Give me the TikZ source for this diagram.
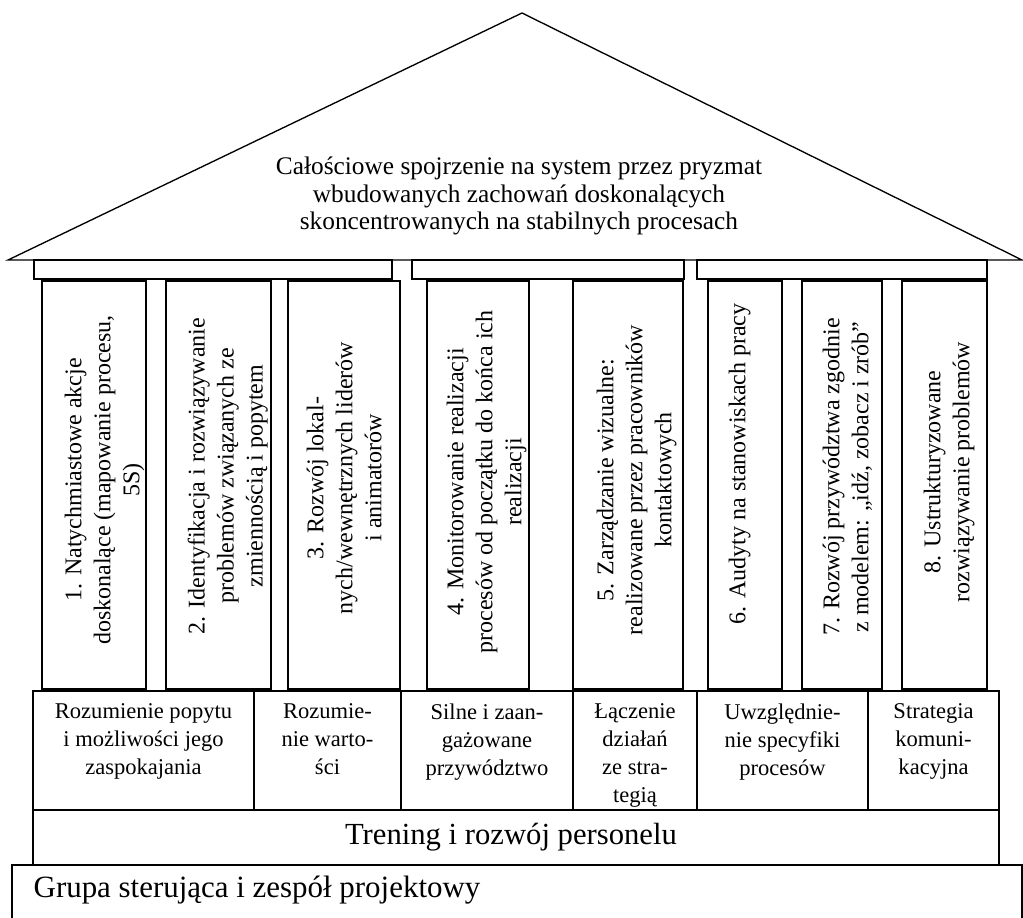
\documentclass[tikz,border=0pt]{standalone}
\usepackage{fontspec}
\setmainfont{Liberation Serif}
\begin{document}
\begin{tikzpicture}[x=0.75pt,y=-0.75pt,line width=1pt,line join=miter,
  outline/.style={draw=black,fill=white},
  rooftext/.style={align=center,inner sep=0pt,font=\fontsize{19}{20.6}\selectfont},
  coltext/.style={rotate=90,anchor=north,align=center,inner sep=0pt,font=\fontsize{18}{21.75}\selectfont},
  celltext/.style={anchor=north,align=center,inner sep=0pt,font=\fontsize{16.9}{21}\selectfont},
  bandtext/.style={inner sep=0pt,font=\fontsize{23}{27}\selectfont}]
\useasboundingbox (0,0) rectangle (1023,917);
% roof
\draw[outline] (8,260) -- (522,13) -- (1022,260) -- cycle;
\node[rooftext] (roof) at (519,196) {Całościowe spojrzenie na system przez pryzmat\\wbudowanych zachowań doskonalących\\skoncentrowanych na stabilnych procesach};
% beams
\draw[outline] (34,260) rectangle (392,279);
\draw[outline] (412,260) rectangle (684,279);
\draw[outline] (697,260) rectangle (987,279);
% columns
\draw[outline] (42,281) rectangle (146,689);
\draw[outline] (166,281) rectangle (271,689);
\draw[outline] (288,281) rectangle (400,689);
\draw[outline] (427,281) rectangle (529,689);
\draw[outline] (573,281) rectangle (683,689);
\draw[outline] (708,281) rectangle (782,689);
\draw[outline] (802,281) rectangle (882,689);
\draw[outline] (902,281) rectangle (987,689);
\node[coltext] (c1) at (64,480) {1. Natychmiastowe akcje\\doskonalące (mapowanie procesu,\\5S)};
\node[coltext] (c2) at (187,476) {2. Identyfikacja i rozwiązywanie\\problemów związanych ze\\zmiennością i popytem};
\node[coltext] (c3) at (306,478) {3. Rozwój lokal-\\nych/wewnętrznych liderów\\i animatorów};
\node[coltext] (c4) at (446,482) {4. Monitorowanie realizacji\\procesów od początku do końca ich\\realizacji};
\node[coltext] (c5) at (596,480) {5. Zarządzanie wizualne:\\realizowane przez pracowników\\kontaktowych};
\node[coltext] (c6) at (728,464) {6. Audyty na stanowiskach pracy};
\node[coltext] (c7) at (822,477) {7. Rozwój przywództwa zgodnie\\z modelem: „idź, zobacz i zrób”};
\node[coltext] (c8) at (923,472) {8. Ustrukturyzowane\\rozwiązywanie problemów};
% middle row
\draw[outline] (33,691) rectangle (999,810);
\draw (254,691) -- (254,810);
\draw (401,691) -- (401,810);
\draw (573,691) -- (573,810);
\draw (697,691) -- (697,810);
\draw (868,691) -- (868,810);
\node[celltext] (m1) at (143.5,703) {Rozumienie popytu\\i możliwości jego\\zaspokajania};
\node[celltext] (m2) at (327.5,703) {Rozumie-\\nie warto-\\ści};
\node[celltext] (m3) at (487,703) {Silne i zaan-\\gażowane\\przywództwo};
\node[celltext] (m4) at (635,703) {Łączenie\\działań\\ze stra-\\tegią};
\node[celltext] (m5) at (782.5,703) {Uwzględnie-\\nie specyfiki\\procesów};
\node[celltext] (m6) at (933.5,703) {Strategia\\komuni-\\kacyjna};
% training band
\draw[outline] (33,810) rectangle (999,865);
\node[bandtext] (tr) at (511,837) {Trening i rozwój personelu};
% base
\draw (12,930) -- (12,865) -- (1022,865) -- (1022,930);
\node[bandtext,anchor=west,font=\fontsize{23.2}{27}\selectfont] (gr) at (33,890) {Grupa sterująca i zespół projektowy};
\end{tikzpicture}
\end{document}
